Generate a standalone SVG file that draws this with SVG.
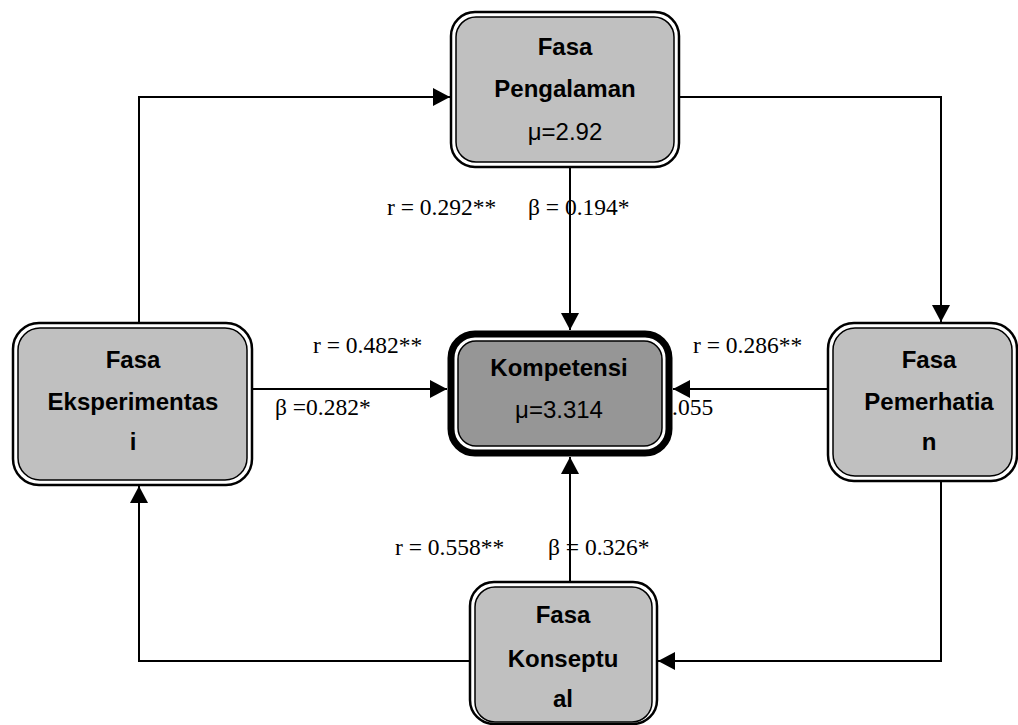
<svg xmlns="http://www.w3.org/2000/svg" width="1018" height="725" viewBox="0 0 1018 725">
<style>
.outer{fill:#fff;stroke:#000;stroke-width:2.5}
.inner{fill:#c0c0c0;stroke:#000;stroke-width:1.5}
.nb{font-family:"Liberation Sans",Arial,sans-serif;font-size:24px;font-weight:bold;text-anchor:middle;fill:#000}
.nr{font-family:"Liberation Sans",Arial,sans-serif;font-size:24px;text-anchor:middle;fill:#000}
.lbl{font-family:"Liberation Serif","Times New Roman",serif;font-size:23.5px;fill:#000}
.c{fill:none;stroke:#000;stroke-width:2}
</style>
<defs>
<marker id="ah" markerUnits="userSpaceOnUse" markerWidth="20" markerHeight="20" refX="17" refY="10" orient="auto">
<path d="M0,1 L17,10 L0,19 Z" fill="#000"/>
</marker>
</defs>
<rect width="1018" height="725" fill="#fff"/>
<g id="connectors">
<path class="c" d="M139,323 V97 H450" marker-end="url(#ah)"/>
<path class="c" d="M680,97 H941 V322" marker-end="url(#ah)"/>
<path class="c" d="M941,482 V661 H658" marker-end="url(#ah)"/>
<path class="c" d="M470,661 H139 V486" marker-end="url(#ah)"/>
<path class="c" d="M570,168 V330" marker-end="url(#ah)"/>
<path class="c" d="M252,389 H447" marker-end="url(#ah)"/>
<path class="c" d="M828,389 H673" marker-end="url(#ah)"/>
<path class="c" d="M570,582 V457" marker-end="url(#ah)"/>
</g>
<g id="node-pengalaman">
<rect class="outer" x="451" y="12" width="228" height="155" rx="24"/>
<rect class="inner" x="456" y="17" width="218" height="145" rx="20"/>
<text class="nb" x="565" y="55">Fasa</text>
<text class="nb" x="565" y="97">Pengalaman</text>
<text class="nr" x="565" y="140">μ=2.92</text>
</g>
<g id="node-kompetensi">
<rect x="451" y="334" width="218" height="119" rx="24" fill="#fff" stroke="#000" stroke-width="7"/>
<rect x="458" y="341" width="204" height="105" rx="18" fill="#969696" stroke="#000" stroke-width="1.5"/>
<text class="nb" x="559" y="376">Kompetensi</text>
<text class="nr" x="559" y="418">μ=3.314</text>
</g>
<g id="node-eksperimentasi">
<rect class="outer" x="13" y="323" width="239" height="162" rx="26"/>
<rect class="inner" x="18" y="328" width="229" height="152" rx="22"/>
<text class="nb" x="133" y="368">Fasa</text>
<text class="nb" x="133" y="410">Eksperimentas</text>
<text class="nb" x="133" y="450">i</text>
</g>
<g id="node-pemerhatian">
<rect class="outer" x="828" y="323" width="189" height="158" rx="26"/>
<rect class="inner" x="833" y="328" width="179" height="148" rx="22"/>
<text class="nb" x="929" y="368">Fasa</text>
<text class="nb" x="929" y="410">Pemerhatia</text>
<text class="nb" x="929" y="450">n</text>
</g>
<g id="node-konseptual">
<rect class="outer" x="470" y="582" width="187" height="142" rx="24"/>
<rect class="inner" x="475" y="587" width="177" height="135" rx="20"/>
<text class="nb" x="563" y="623">Fasa</text>
<text class="nb" x="563" y="667">Konseptu</text>
<text class="nb" x="563" y="707">al</text>
</g>
<g id="labels">
<text class="lbl" x="387" y="215">r = 0.292**</text>
<text class="lbl" x="528" y="215">β = 0.194*</text>
<text class="lbl" x="313" y="353">r = 0.482**</text>
<text class="lbl" x="275" y="415">β =0.282*</text>
<text class="lbl" x="693" y="353">r = 0.286**</text>
<text class="lbl" x="672" y="415">.055</text>
<text class="lbl" x="395" y="555">r = 0.558**</text>
<text class="lbl" x="548" y="555">β = 0.326*</text>
</g>
</svg>
